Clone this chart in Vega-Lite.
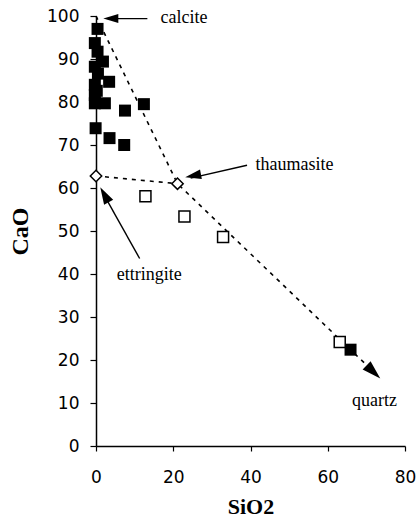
{
  "$schema": "https://vega.github.io/schema/vega-lite/v6.json",
  "width": 309,
  "height": 430,
  "autosize": "none",
  "padding": {"left": 96, "top": 16, "right": 11, "bottom": 80},
  "background": "white",
  "config": {"view": {"stroke": null}},
  "datasets": {
    "points": [
      {"kind": "sample", "SiO2": 0.4, "CaO": 97.0},
      {"kind": "sample", "SiO2": -0.3, "CaO": 93.7},
      {"kind": "sample", "SiO2": 0.4, "CaO": 91.7},
      {"kind": "sample", "SiO2": 1.8, "CaO": 89.4},
      {"kind": "sample", "SiO2": -0.3, "CaO": 88.2},
      {"kind": "sample", "SiO2": 0.5, "CaO": 86.6},
      {"kind": "sample", "SiO2": 3.4, "CaO": 84.7},
      {"kind": "sample", "SiO2": -0.3, "CaO": 84.0},
      {"kind": "sample", "SiO2": 0.2, "CaO": 82.6},
      {"kind": "sample", "SiO2": -0.3, "CaO": 81.6},
      {"kind": "sample", "SiO2": -0.3, "CaO": 79.7},
      {"kind": "sample", "SiO2": 2.3, "CaO": 79.7},
      {"kind": "sample", "SiO2": 7.5, "CaO": 78.0},
      {"kind": "sample", "SiO2": 12.4, "CaO": 79.5},
      {"kind": "sample", "SiO2": -0.1, "CaO": 73.9},
      {"kind": "sample", "SiO2": 3.5, "CaO": 71.6},
      {"kind": "sample", "SiO2": 7.3, "CaO": 70.0},
      {"kind": "sample", "SiO2": 65.9, "CaO": 22.4},
      {"kind": "open", "SiO2": 12.8, "CaO": 58.1},
      {"kind": "open", "SiO2": 22.9, "CaO": 53.4},
      {"kind": "open", "SiO2": 32.9, "CaO": 48.6},
      {"kind": "open", "SiO2": 63.1, "CaO": 24.2},
      {"kind": "mineral", "SiO2": 0.0, "CaO": 62.8},
      {"kind": "mineral", "SiO2": 21.1, "CaO": 61.0}
    ],
    "tielines": [
      {"seg": "calcite-quartz", "ord": 1, "SiO2": 0.0, "CaO": 100.0},
      {"seg": "calcite-quartz", "ord": 2, "SiO2": 21.1, "CaO": 61.0},
      {"seg": "calcite-quartz", "ord": 3, "SiO2": 72.5, "CaO": 16.7},
      {"seg": "ettringite-thaumasite", "ord": 1, "SiO2": 0.0, "CaO": 62.8},
      {"seg": "ettringite-thaumasite", "ord": 2, "SiO2": 21.1, "CaO": 61.0}
    ],
    "arrows": [
      {"seg": "calcite", "ord": 1, "SiO2": 13.3, "CaO": 99.4},
      {"seg": "calcite", "ord": 2, "SiO2": 3.0, "CaO": 99.4},
      {"seg": "thaumasite", "ord": 1, "SiO2": 39.1, "CaO": 65.3},
      {"seg": "thaumasite", "ord": 2, "SiO2": 24.5, "CaO": 62.3},
      {"seg": "ettringite", "ord": 1, "SiO2": 11.3, "CaO": 43.6},
      {"seg": "ettringite", "ord": 2, "SiO2": 2.0, "CaO": 58.5}
    ],
    "heads": [
      {"name": "calcite", "SiO2": 1.9, "CaO": 99.4},
      {"name": "thaumasite", "SiO2": 23.1, "CaO": 62.5},
      {"name": "ettringite", "SiO2": 1.1, "CaO": 60.2},
      {"name": "quartz", "SiO2": 73.6, "CaO": 15.7}
    ],
    "labels": [
      {"label": "calcite", "SiO2": 16.7, "CaO": 99.6},
      {"label": "thaumasite", "SiO2": 41.3, "CaO": 65.4},
      {"label": "ettringite", "SiO2": 5.4, "CaO": 39.7},
      {"label": "quartz", "SiO2": 66.3, "CaO": 10.4}
    ]
  },
  "encoding": {
    "x": {
      "field": "SiO2", "type": "quantitative",
      "scale": {"domain": [0, 80], "nice": false, "zero": false},
      "axis": {
        "title": "SiO2", "values": [0, 20, 40, 60, 80], "grid": false,
        "domainColor": "black", "domainWidth": 1.5, "tickColor": "black", "tickWidth": 1.2, "tickSize": 5,
        "labelFont": "DejaVu Sans", "labelFontSize": 17, "labelColor": "black", "labelPadding": 18,
        "labelFlush": false,
        "titleFont": "Liberation Serif", "titleFontSize": 22, "titleFontWeight": "bold", "titleColor": "black", "titlePadding": 11
      }
    },
    "y": {
      "field": "CaO", "type": "quantitative",
      "scale": {"domain": [0, 100], "nice": false, "zero": false},
      "axis": {
        "title": "CaO", "values": [0, 10, 20, 30, 40, 50, 60, 70, 80, 90, 100], "grid": false,
        "domainColor": "black", "domainWidth": 1.5, "tickColor": "black", "tickWidth": 1.2, "tickSize": 6,
        "labelFont": "DejaVu Sans", "labelFontSize": 17, "labelColor": "black", "labelPadding": 11,
        "labelFlush": false,
        "titleFont": "Liberation Serif", "titleFontSize": 24, "titleFontWeight": "bold", "titleColor": "black", "titlePadding": 14
      }
    }
  },
  "layer": [
    {
      "mark": {"type": "rule", "color": "#aaaaaa", "strokeDash": [1, 2], "strokeWidth": 1},
      "encoding": {"y": {"datum": 50}, "x": {"datum": 0}, "x2": {"datum": 80}}
    },
    {
      "data": {"name": "tielines"},
      "mark": {"type": "line", "color": "black", "strokeWidth": 1.6, "strokeDash": [4, 5]},
      "encoding": {"detail": {"field": "seg"}, "order": {"field": "ord"}}
    },
    {
      "data": {"name": "arrows"},
      "mark": {"type": "line", "color": "black", "strokeWidth": 1.4},
      "encoding": {"detail": {"field": "seg"}, "order": {"field": "ord"}}
    },
    {
      "data": {"name": "heads"},
      "transform": [{"filter": "datum.name === 'calcite'"}],
      "mark": {"type": "point", "shape": "M0,0L-0.6,2L0.6,2Z", "size": 225, "angle": 270, "filled": true, "color": "black", "opacity": 1}
    },
    {
      "data": {"name": "heads"},
      "transform": [{"filter": "datum.name === 'thaumasite'"}],
      "mark": {"type": "point", "shape": "M0,0L-0.6,2L0.6,2Z", "size": 256, "angle": 259, "filled": true, "color": "black", "opacity": 1}
    },
    {
      "data": {"name": "heads"},
      "transform": [{"filter": "datum.name === 'ettringite'"}],
      "mark": {"type": "point", "shape": "M0,0L-0.6,2L0.6,2Z", "size": 300, "angle": 331, "filled": true, "color": "black", "opacity": 1}
    },
    {
      "data": {"name": "heads"},
      "transform": [{"filter": "datum.name === 'quartz'"}],
      "mark": {"type": "point", "shape": "M0,0L-0.6,2L0.6,2Z", "size": 361, "angle": 134, "filled": true, "color": "black", "opacity": 1}
    },
    {
      "data": {"name": "points"},
      "transform": [{"filter": "datum.kind === 'sample'"}],
      "mark": {"type": "point", "shape": "square", "size": 144, "filled": true, "color": "black", "opacity": 1}
    },
    {
      "data": {"name": "points"},
      "transform": [{"filter": "datum.kind === 'open'"}],
      "mark": {"type": "point", "shape": "square", "size": 121, "filled": true, "fill": "white", "stroke": "black", "strokeWidth": 1.5, "opacity": 1}
    },
    {
      "data": {"name": "points"},
      "transform": [{"filter": "datum.kind === 'mineral'"}],
      "mark": {"type": "point", "shape": "diamond", "size": 130, "filled": true, "fill": "white", "stroke": "black", "strokeWidth": 1.5, "opacity": 1}
    },
    {
      "data": {"name": "labels"},
      "mark": {"type": "text", "font": "Liberation Serif", "fontSize": 18, "align": "left", "baseline": "middle", "color": "black"},
      "encoding": {"text": {"field": "label"}}
    }
  ]
}
